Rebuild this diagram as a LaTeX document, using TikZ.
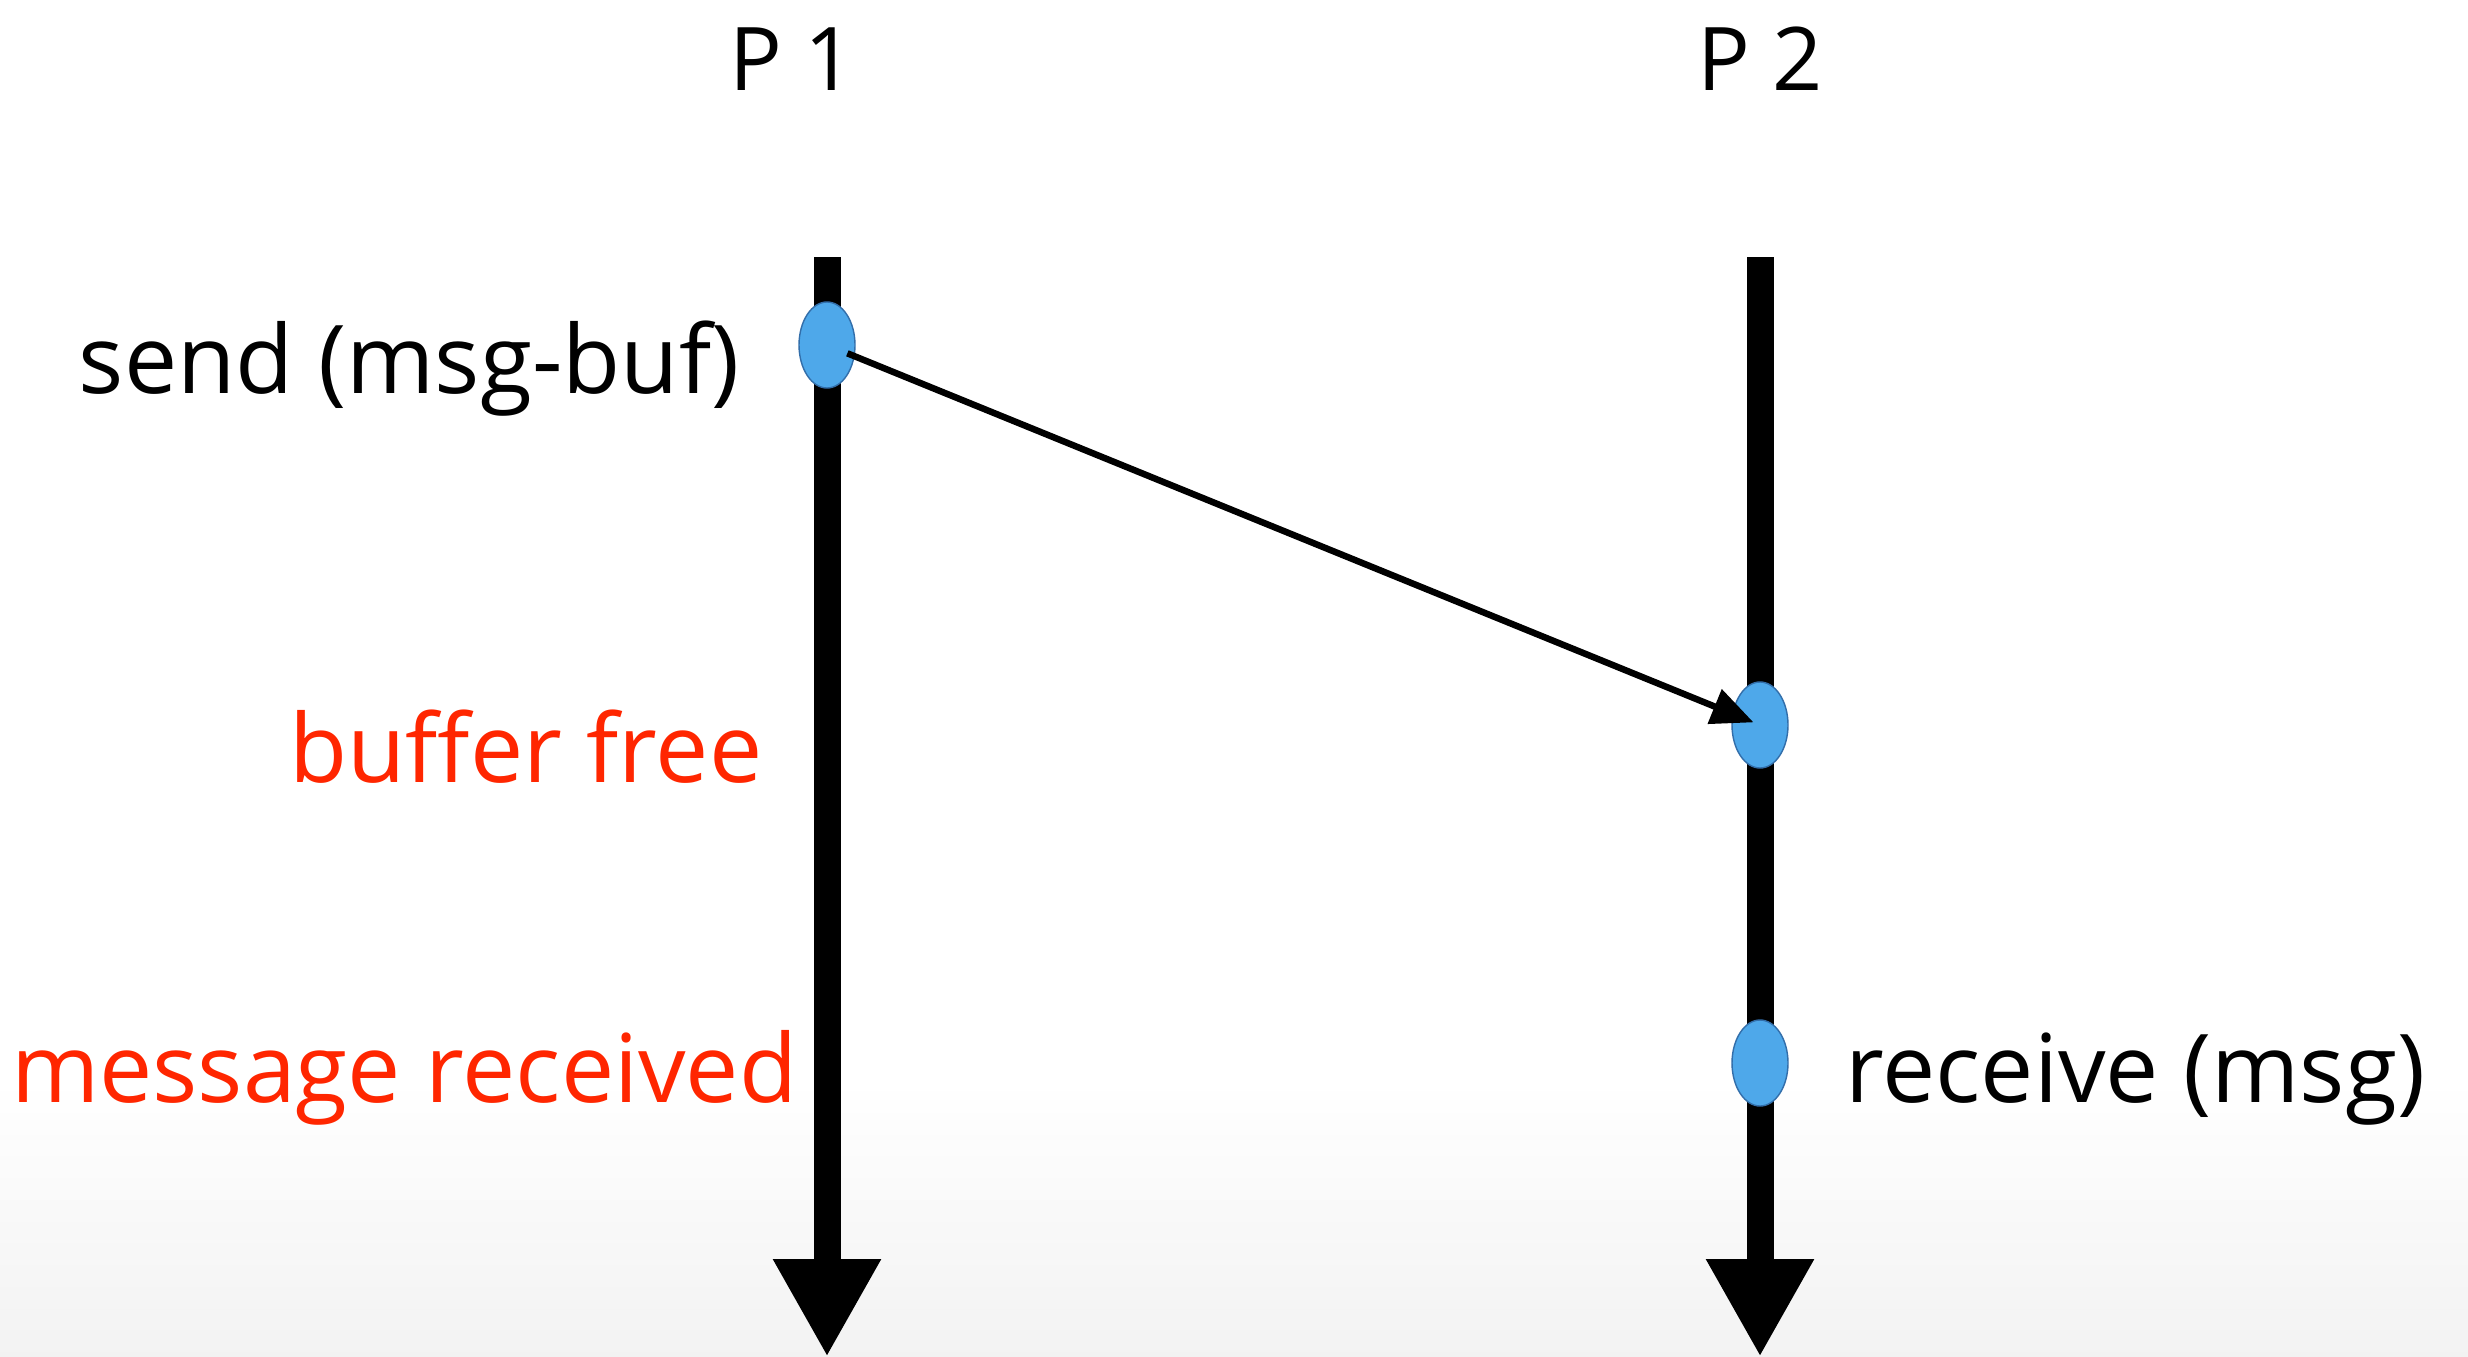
\documentclass[tikz,border=0pt]{standalone}
\usepackage{fontspec}
\setmainfont{Open Sans}
\usetikzlibrary{arrows.meta,shapes.geometric,positioning}
\definecolor{dotblue}{RGB}{78,168,234}
\definecolor{dotedge}{RGB}{50,110,170}
\definecolor{labelred}{RGB}{255,38,0}

\begin{document}
\begin{tikzpicture}[
  lifeline/.style={line width=0.27cm, -{Triangle[length=0.98cm,width=1.01cm]}},
  event/.style={ellipse, fill=dotblue, draw=dotedge, line width=0.4pt,
    minimum width=0.56cm, minimum height=0.86cm, inner sep=0pt},
  msgarrow/.style={line width=0.065cm, -{Triangle[length=0.42cm,width=0.36cm]}},
  proc/.style={font=\fontsize{25}{30}\selectfont, anchor=base, inner sep=0pt},
  lbl/.style={font=\fontsize{27}{32}\selectfont, inner sep=0pt}]

% background, fading to grey at the bottom
\fill[white] (0,0) rectangle (24.68,-13.57);
\shade[top color=white, bottom color=black!5] (0,-10.8) rectangle (24.68,-13.57);
\useasboundingbox (0,0) rectangle (24.68,-13.57);

% ============ PROCESSES ============
\node[proc] (p1) at (7.92,-0.91) {P 1};
\node[proc] (p2) at (17.60,-0.91) {P 2};

\coordinate (p1top) at (8.27,-2.57);
\coordinate (p1end) at (8.27,-13.57);
\coordinate (p2top) at (17.60,-2.57);
\coordinate (p2end) at (17.60,-13.57);

\draw[lifeline] (p1top) -- (p1end);
\draw[lifeline] (p2top) -- (p2end);

% ============ EVENTS ============
\node[event] (send) at (8.27,-3.45) {};
\node[event] (arrive) at (17.60,-7.25) {};
\node[event] (recv) at (17.60,-10.63) {};

\draw[msgarrow, shorten <=0.22cm, shorten >=0.07cm] (send.center) -- (arrive.center);

% ============ LABELS ============
\node[lbl, anchor=base east] (sendlbl) at (7.40,-3.93) {send (msg-buf)};
\node[lbl, anchor=base east, text=labelred] (buflbl) at (7.63,-7.82) {buffer free};
\node[lbl, anchor=base east, text=labelred] (msglbl) at (7.98,-11.02) {message received};
\node[lbl, anchor=base west] (recvlbl) at (18.45,-11.02) {receive (msg)};

\end{tikzpicture}
\end{document}
